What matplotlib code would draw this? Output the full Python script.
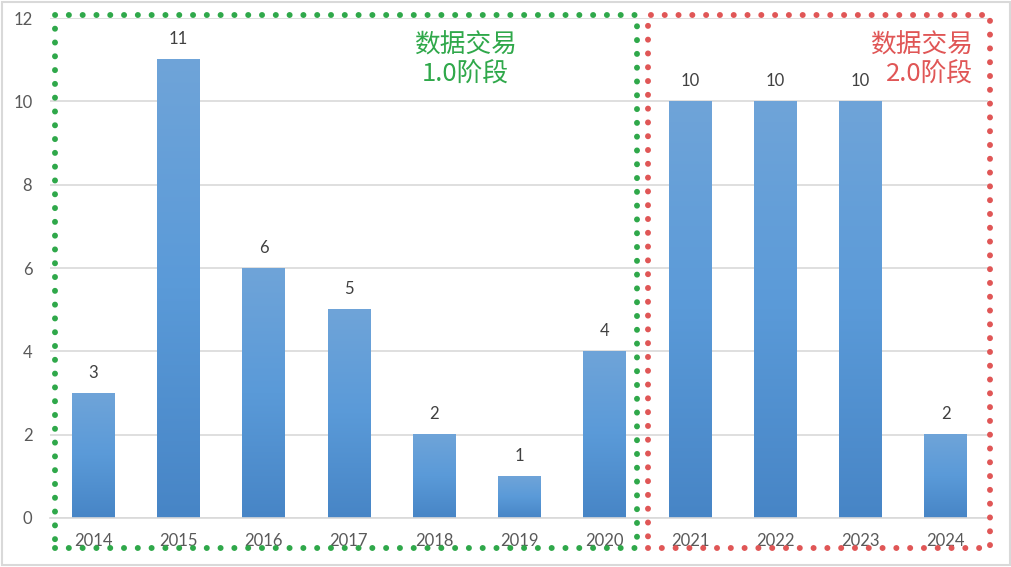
import numpy as np
import matplotlib.pyplot as plt
from matplotlib.patches import Rectangle
from matplotlib.colors import LinearSegmentedColormap

years = ['2014', '2015', '2016', '2017', '2018', '2019', '2020',
         '2021', '2022', '2023', '2024']
counts = [3, 11, 6, 5, 2, 1, 4, 10, 10, 10, 2]
yticks = [0, 2, 4, 6, 8, 10, 12]

plt.rcParams['font.family'] = ['Lato', 'Noto Sans CJK SC', 'DejaVu Sans']

fig = plt.figure(figsize=(10.12, 5.67), dpi=100)
ax = fig.add_axes([50.4 / 1012, 49 / 567, 938 / 1012, 500 / 567])

x = np.arange(len(years))
w = 0.5
bars = ax.bar(x, counts, width=w, color='none', edgecolor='none', zorder=2)

# gradient fill, lighter on top
cmap = LinearSegmentedColormap.from_list('b', ['#4785c6', '#5a9ad8', '#6fa4d9'])
grad = np.linspace(0, 1, 256).reshape(-1, 1)
for b in bars:
    x0, h = b.get_x(), b.get_height()
    ax.imshow(grad, cmap=cmap, aspect='auto', origin='lower',
              extent=[x0, x0 + w, 0, h], zorder=2)
    ax.text(x0 + w / 2, h + 0.3, str(int(h)), ha='center', va='bottom',
            fontsize=12, color='#404040')

ax.set_xlim(-0.5, len(years) - 0.5)
ax.set_ylim(0, 12)
ax.set_yticks(yticks)
ax.set_xticks(x)
ax.set_xticklabels(years)
ax.tick_params(axis='both', length=0, labelsize=12, labelcolor='#595959')
ax.tick_params(axis='x', pad=11)
ax.tick_params(axis='y', pad=13)
ax.yaxis.grid(True, color='#d9d9d9', linewidth=1.2, zorder=0)
ax.set_axisbelow(True)
for s in ['top', 'right', 'left']:
    ax.spines[s].set_visible(False)
ax.spines['bottom'].set_color('#d9d9d9')
ax.spines['bottom'].set_linewidth(1.2)


def dotted_box(x0, x1, y0, y1, color):
    ax.plot([x0, x1, x1, x0, x0], [y0, y0, y1, y1, y0], color=color,
            linewidth=4.3, linestyle=(0, (0.01, 2.3)),
            dash_capstyle='round', clip_on=False, zorder=3)


# dotted boxes for the two stages
dotted_box(-0.445, 6.376, -0.72, 12.07, '#2fa84a')
dotted_box(6.505, 10.516, -0.72, 12.07, '#e05656')

ax.text(4.37, 11.65, '数据交易\n1.0阶段', ha='center', va='top', fontsize=18.5,
        color='#2fa84a', linespacing=1.1, family=['Noto Sans CJK SC'])
ax.text(10.32, 11.65, '数据交易\n2.0阶段', ha='right', va='top', fontsize=18.5,
        color='#e05656', linespacing=1.1, family=['Noto Sans CJK SC'])

fig.add_artist(Rectangle((0.002, 0.003), 0.996, 0.994, transform=fig.transFigure,
                         fill=False, edgecolor='#d9d9d9', linewidth=1.5))

fig.savefig('out.png', dpi=100)
